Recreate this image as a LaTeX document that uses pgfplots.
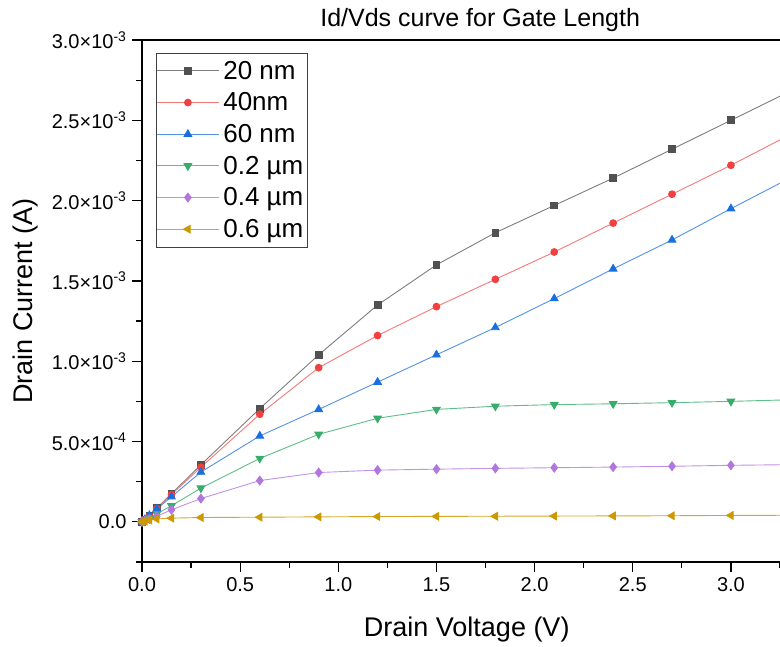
\documentclass[border=0pt]{standalone}
\usepackage{pgfplots}
\pgfplotsset{compat=1.18}
\usepackage{pgfplotstable}
\usepackage{fontspec}
\setmainfont{Liberation Sans}
\definecolor{cBlack}{HTML}{515151}
\definecolor{cRed}{HTML}{F14040}
\definecolor{cBlue}{HTML}{1A6FDF}
\definecolor{cGreen}{HTML}{37AD6B}
\definecolor{cPurple}{HTML}{B177DE}
\definecolor{cGold}{HTML}{CC9900}
\pgfplotstableread{
x      a        b        c        d        e        f
0      0        0        0        0        0        0
0.015  1.5e-5   1.5e-5   1.5e-5   1.0e-5   7e-6     5e-6
0.0375 3.8e-5   3.7e-5   4.0e-5   2.5e-5   1.8e-5   1.2e-5
0.075  8.5e-5   8.3e-5   8.0e-5   5.0e-5   3.5e-5   1.8e-5
0.15   1.75e-4  1.70e-4  1.56e-4  1.00e-4  7.5e-5   2.3e-5
0.3    3.55e-4  3.40e-4  3.10e-4  2.10e-4  1.45e-4  2.7e-5
0.6    7.05e-4  6.70e-4  5.35e-4  3.95e-4  2.57e-4  2.9e-5
0.9    1.04e-3  9.60e-4  7.00e-4  5.45e-4  3.07e-4  3.1e-5
1.2    1.35e-3  1.16e-3  8.70e-4  6.45e-4  3.22e-4  3.3e-5
1.5    1.60e-3  1.34e-3  1.04e-3  7.00e-4  3.28e-4  3.4e-5
1.8    1.80e-3  1.51e-3  1.21e-3  7.20e-4  3.33e-4  3.5e-5
2.1    1.97e-3  1.68e-3  1.39e-3  7.30e-4  3.37e-4  3.6e-5
2.4    2.14e-3  1.86e-3  1.575e-3 7.35e-4  3.41e-4  3.7e-5
2.7    2.32e-3  2.04e-3  1.755e-3 7.42e-4  3.46e-4  3.8e-5
3.0    2.50e-3  2.22e-3  1.95e-3  7.50e-4  3.52e-4  4.0e-5
3.3    2.68e-3  2.41e-3  2.14e-3  7.60e-4  3.56e-4  4.1e-5
}\datatable
\begin{document}
\begin{tikzpicture}
\path[use as bounding box] (-142pt,-84pt) rectangle (638pt,562pt);
\begin{axis}[
  at={(0pt,0pt)}, anchor=south west,
  scale only axis, width=638pt, height=522pt,
  xmin=0, xmax=3.25, ymin=-0.00025, ymax=0.003,
  axis lines=left, axis line style={-, line width=1.3pt},
  tick align=outside, major tick length=10pt, minor tick length=6pt,
  every tick/.style={line width=1.2pt, black},
  xtick={0,0.5,1,1.5,2,2.5,3},
  xticklabels={0.0,0.5,1.0,1.5,2.0,2.5,3.0},
  minor xtick={0.25,0.75,1.25,1.75,2.25,2.75,3.25},
  ytick={0,0.0005,0.001,0.0015,0.002,0.0025,0.003},
  yticklabels={0.0,5.0×10\textsuperscript{-4},1.0×10\textsuperscript{-3},1.5×10\textsuperscript{-3},2.0×10\textsuperscript{-3},2.5×10\textsuperscript{-3},3.0×10\textsuperscript{-3}},
  minor ytick={-0.00025,0.00025,0.00075,0.00125,0.00175,0.00225,0.00275},
  scaled y ticks=false,
  ticklabel style={font=\fontsize{20}{24}\selectfont},
  xticklabel style={yshift=-2pt},
  yticklabel style={xshift=-2pt},
  xlabel={Drain Voltage (V)}, ylabel={Drain Current (A)},
  xlabel style={font=\fontsize{27}{31}\selectfont, at={(axis description cs:0.509,-0.130)}, anchor=center},
  ylabel style={font=\fontsize{27}{31}\selectfont, at={(axis description cs:-0.183,0.5)}, anchor=center},
  title={Id/Vds curve for Gate Length},
  title style={font=\fontsize{25}{29}\selectfont, at={(axis description cs:0.53,1.027)}, anchor=center},
  legend style={at={(axis description cs:0.022,0.9757)}, anchor=north west,
    draw=black!75, line width=0.8pt, font=\fontsize{26}{30}\selectfont,
    row sep=8pt, inner xsep=0pt, inner ysep=6pt, nodes={inner xsep=4pt}},
  legend cell align=left,
  legend image code/.code={\draw[mark repeat=2,mark phase=2,#1] plot coordinates {(0pt,0pt) (31pt,0pt) (62pt,0pt)};},
  clip=true,
]
\draw[line width=1.3pt] (rel axis cs:0,1) -- (rel axis cs:1,1);
\addplot[color=cBlack!75, line width=0.9pt, mark=square*, mark size=3.4pt, mark options={fill=cBlack, draw=cBlack}] table[x=x,y=a]{\datatable};
\addlegendentry{20 nm}
\addplot[color=cRed!70, line width=0.9pt, mark=*, mark size=3.4pt, mark options={fill=cRed, draw=cRed}] table[x=x,y=b]{\datatable};
\addlegendentry{40nm}
\addplot[color=cBlue!75, line width=0.9pt, mark=triangle*, mark size=4.4pt, mark options={fill=cBlue, draw=cBlue}] table[x=x,y=c]{\datatable};
\addlegendentry{60 nm}
\addplot[color=cGreen!80, line width=0.9pt, mark=triangle*, mark size=4.4pt, mark options={rotate=180, fill=cGreen, draw=cGreen}] table[x=x,y=d]{\datatable};
\addlegendentry{0.2 µm}
\addplot[color=cPurple!80, line width=0.9pt, mark=diamond*, mark size=4.4pt, mark options={fill=cPurple, draw=cPurple}] table[x=x,y=e]{\datatable};
\addlegendentry{0.4 µm}
\addplot[color=cGold!85, line width=0.9pt, mark=triangle*, mark size=4.4pt, mark options={rotate=90, fill=cGold, draw=cGold}] table[x=x,y=f]{\datatable};
\addlegendentry{0.6 µm}
\end{axis}
\end{tikzpicture}
\end{document}
